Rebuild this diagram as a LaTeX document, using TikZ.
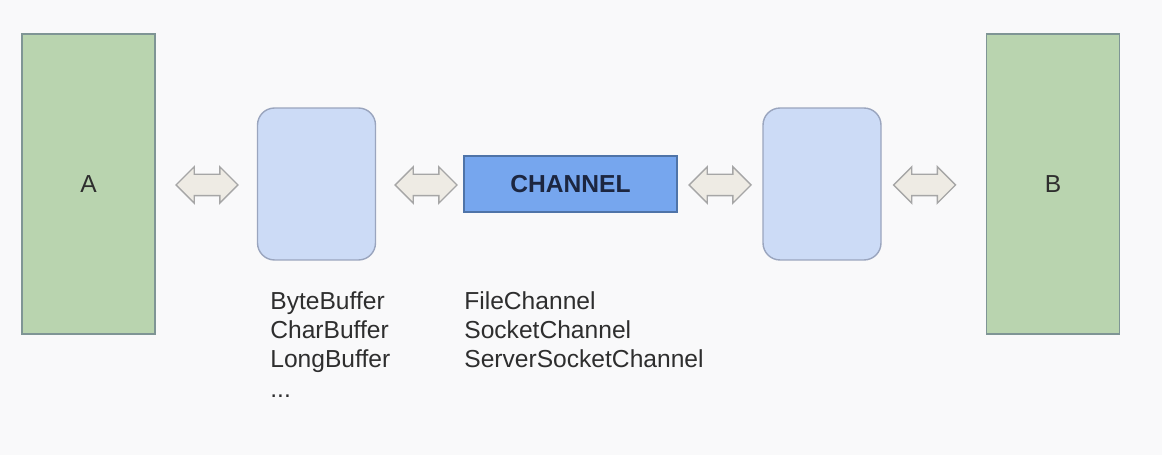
\documentclass[tikz,border=0pt]{standalone}
\usepackage{fontspec}
\setmainfont{Liberation Sans}
\usetikzlibrary{shapes.arrows}

\definecolor{bgGray}{HTML}{F9F9FA}
\definecolor{greenFill}{HTML}{B9D4AF}
\definecolor{greenLine}{HTML}{7F9595}
\definecolor{bufFill}{HTML}{CCDBF6}
\definecolor{bufLine}{HTML}{9AA5BE}
\definecolor{chanFill}{HTML}{76A6EE}
\definecolor{chanLine}{HTML}{4F74A8}
\definecolor{chanText}{HTML}{1C2640}
\definecolor{arrowFill}{HTML}{EEEBE4}
\definecolor{arrowLine}{HTML}{A6A6A6}
\definecolor{textGray}{HTML}{2E2E2E}

\begin{document}
\begin{tikzpicture}
[x=0.02cm,y=-0.02cm,
  hostDecorate/.style={shape=rectangle,draw=greenLine,fill=greenFill,thick,
    minimum width=2.66cm,minimum height=6cm,inner sep=0pt,
    font=\fontsize{14}{16}\selectfont,text=textGray},%
  bufferDecorate/.style={shape=rectangle,rounded corners=0.34cm,draw=bufLine,
    fill=bufFill,thick,minimum width=2.36cm,minimum height=3.04cm},%
  channelDecorate/.style={shape=rectangle,draw=chanLine,fill=chanFill,thick,
    minimum width=4.26cm,minimum height=1.12cm,text=chanText,
    font=\fontsize{14}{16}\selectfont\bfseries},%
  arrowDecorate/.style={shape=double arrow,draw=arrowLine,fill=arrowFill,thick,
    minimum height=1.24cm,inner xsep=0pt,inner ysep=0.2cm,
    double arrow head extend=0.15cm},%
  listDecorate/.style={anchor=north west,inner sep=0pt,align=left,text=textGray,
    font=\fontsize{14}{16.5}\selectfont}]
%% background
\fill[bgGray] (0,0) rectangle (1162,455);
%% hosts
\foreach \nodename/\x/\txt in {A/88.5/A, B/1053/B}
{
  \node (\nodename) at (\x,184) [hostDecorate] {\txt};
}
%% buffers and channel
\foreach \nodename/\x in {bufL/316.5, bufR/822}
{
  \node (\nodename) at (\x,184) [bufferDecorate] {};
}
\node (chan) at (570.5,184) [channelDecorate] {CHANNEL};
%% double arrows
\foreach \nodename/\x in {arrA/207, arrL/426, arrR/720, arrB/924.5}
{
  \node (\nodename) at (\x,185) [arrowDecorate] {};
}
%% lists under buffer and channel
\node (bufList) at (270,291) [listDecorate]
  {ByteBuffer\\CharBuffer\\LongBuffer\\[1pt]...};
\node (chanList) at (464,291) [listDecorate]
  {FileChannel\\SocketChannel\\ServerSocketChannel};
\end{tikzpicture}
\end{document}
